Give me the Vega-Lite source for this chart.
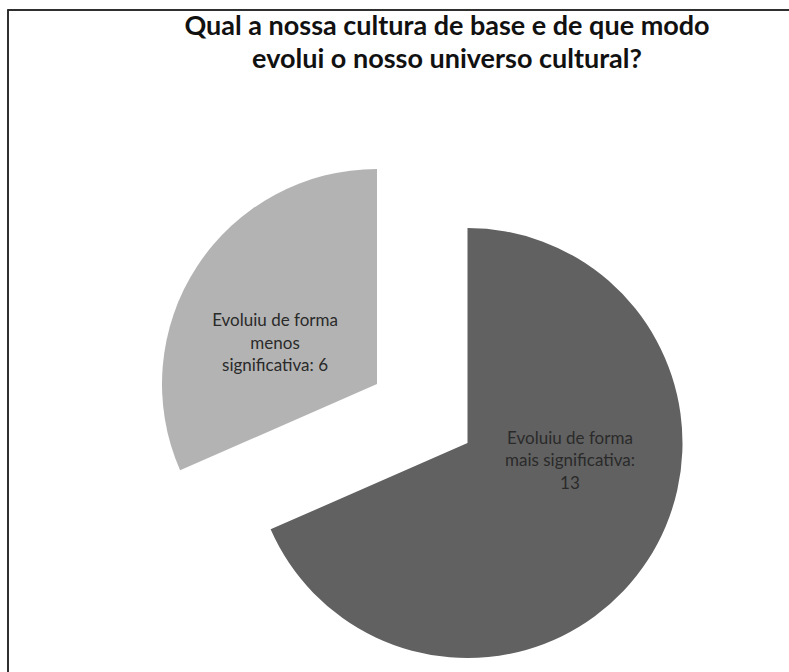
{
  "$schema": "https://vega.github.io/schema/vega-lite/v6.json",
  "width": 789,
  "height": 672,
  "autosize": {"type": "fit", "contains": "padding"},
  "padding": {"left": 7, "top": 9, "right": -2, "bottom": -2},
  "background": "#ffffff",
  "config": {"view": {"stroke": null}},
  "title": {
    "text": ["Qual a nossa cultura de base e de que modo", "evolui o nosso universo cultural?"],
    "font": "Lato",
    "fontSize": 27,
    "fontWeight": "bold",
    "color": "#111111",
    "anchor": "middle",
    "baseline": "bottom",
    "lineHeight": 33,
    "offset": -92,
    "dx": 48
  },
  "data": {
    "values": [
      {"categoria": "Evoluiu de forma mais significativa", "valor": 13, "rotulo": "Evoluiu de forma\nmais significativa:\n13"},
      {"categoria": "Evoluiu de forma menos significativa", "valor": 6, "rotulo": "Evoluiu de forma\nmenos\nsignificativa: 6"}
    ]
  },
  "layer": [
    {
      "mark": {"type": "rect", "fill": null, "stroke": "#222222", "strokeWidth": 1.5}
    },
    {
      "mark": {"type": "arc", "outerRadius": 215, "xOffset": 68.5, "yOffset": 101.5},
      "encoding": {
        "theta": {"field": "valor", "type": "quantitative", "stack": true},
        "order": {"field": "valor", "type": "quantitative", "sort": "descending"},
        "color": {"field": "categoria", "type": "nominal", "legend": null,
          "scale": {"domain": ["Evoluiu de forma mais significativa", "Evoluiu de forma menos significativa"], "range": ["#616161", "#b3b3b3"]}},
        "opacity": {"condition": {"test": "datum.categoria === 'Evoluiu de forma mais significativa'", "value": 1}, "value": 0}
      }
    },
    {
      "mark": {"type": "arc", "outerRadius": 215, "xOffset": -22, "yOffset": 42.5},
      "encoding": {
        "theta": {"field": "valor", "type": "quantitative", "stack": true},
        "order": {"field": "valor", "type": "quantitative", "sort": "descending"},
        "color": {"field": "categoria", "type": "nominal", "legend": null},
        "opacity": {"condition": {"test": "datum.categoria === 'Evoluiu de forma menos significativa'", "value": 1}, "value": 0}
      }
    },
    {
      "mark": {"type": "text", "radius": 107, "xOffset": 81.4, "yOffset": 38.5, "font": "Lato", "fontSize": 17, "color": "#2a2a2a", "lineBreak": "\n", "lineHeight": 22.5, "align": "center", "baseline": "middle"},
      "encoding": {
        "theta": {"field": "valor", "type": "quantitative", "stack": true},
        "order": {"field": "valor", "type": "quantitative", "sort": "descending"},
        "text": {"condition": {"test": "datum.categoria === 'Evoluiu de forma mais significativa'", "field": "rotulo"}, "value": ""}
      }
    },
    {
      "mark": {"type": "text", "radius": 107, "xOffset": -34.4, "yOffset": 38.5, "font": "Lato", "fontSize": 17, "color": "#2a2a2a", "lineBreak": "\n", "lineHeight": 22.5, "align": "center", "baseline": "middle"},
      "encoding": {
        "theta": {"field": "valor", "type": "quantitative", "stack": true},
        "order": {"field": "valor", "type": "quantitative", "sort": "descending"},
        "text": {"condition": {"test": "datum.categoria === 'Evoluiu de forma menos significativa'", "field": "rotulo"}, "value": ""}
      }
    }
  ]
}
